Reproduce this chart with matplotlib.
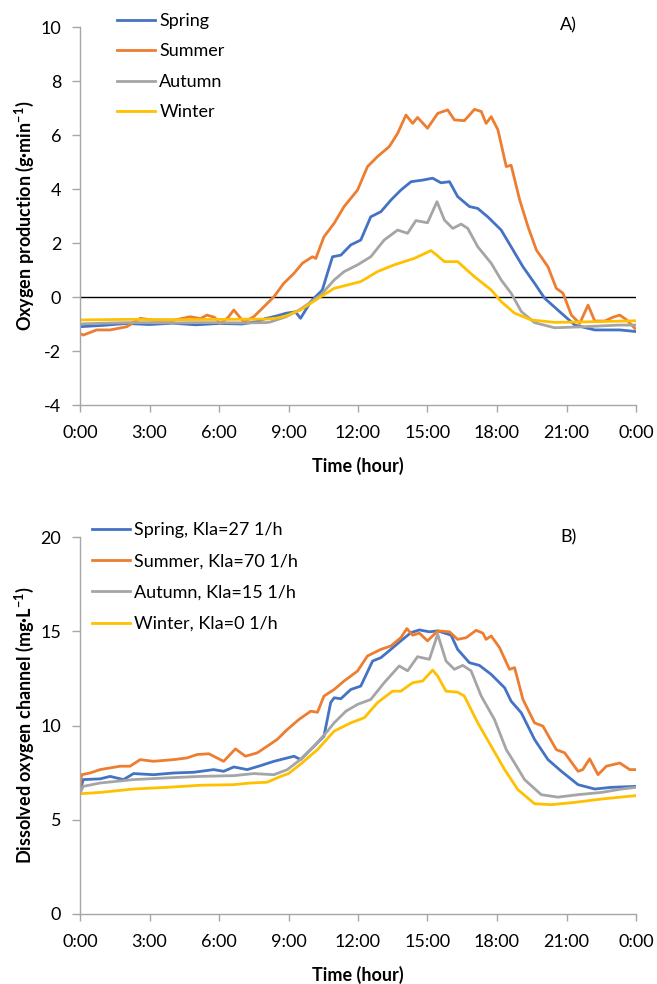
import matplotlib
matplotlib.use("Agg")
import matplotlib.pyplot as plt

plt.rcParams['font.family'] = ['Lato', 'DejaVu Sans']
plt.rcParams['mathtext.default'] = 'regular'
plt.rcParams['axes.unicode_minus'] = False

# ---------------- Panel A: oxygen production (g/min) ----------------
spring_a_t = [0, 1, 2, 3, 4, 5, 6, 7, 7.7, 8.0, 8.5, 8.9, 9.3, 9.52, 9.96, 10.46, 10.68, 10.9, 11.26, 11.69,
              12.12, 12.55, 12.99, 13.42, 13.85, 14.29, 14.79, 15.22, 15.58, 15.95, 16.3, 16.81, 17.17, 17.6,
              18.18, 18.61, 19.12, 19.62, 20.06, 20.78, 21.36, 22.22, 23.3, 24]
spring_a_v = [-1.1, -1.05, -0.98, -1.02, -0.97, -1.03, -0.98, -1.0, -0.9, -0.8, -0.7, -0.6, -0.55, -0.79, -0.17,
              0.26, 0.88, 1.49, 1.55, 1.93, 2.11, 2.97, 3.16, 3.59, 3.96, 4.27, 4.33, 4.40, 4.23, 4.27, 3.72,
              3.35, 3.28, 2.97, 2.48, 1.86, 1.12, 0.51, -0.05, -0.6, -1.04, -1.22, -1.22, -1.28]

summer_a_t = [0, 0.14, 0.72, 1.3, 2.02, 2.3, 2.6, 3.17, 4.04, 4.76, 5.2, 5.48, 5.8, 6.06, 6.4, 6.64, 7.07,
              7.5, 7.94, 8.37, 8.8, 9.24, 9.6, 10.03, 10.18, 10.53, 10.97, 11.40, 11.98, 12.41, 12.84, 13.35,
              13.71, 14.07, 14.36, 14.57, 15.0, 15.44, 15.87, 16.16, 16.59, 17.03, 17.32, 17.53, 17.75, 18.04,
              18.40, 18.61, 18.98, 19.34, 19.70, 20.2, 20.56, 20.85, 21.21, 21.57, 21.93, 22.22, 22.65, 23.0,
              23.3, 23.6, 23.95]
summer_a_v = [-1.35, -1.41, -1.22, -1.22, -1.1, -0.95, -0.79, -0.86, -0.86, -0.73, -0.80, -0.67, -0.75, -0.99,
              -0.75, -0.48, -0.93, -0.73, -0.36, 0.01, 0.51, 0.88, 1.25, 1.49, 1.43, 2.23, 2.73, 3.35, 3.96,
              4.83, 5.2, 5.57, 6.06, 6.74, 6.43, 6.65, 6.25, 6.80, 6.93, 6.56, 6.53, 6.95, 6.87, 6.43, 6.68,
              6.19, 4.83, 4.88, 3.59, 2.6, 1.74, 1.12, 0.32, 0.14, -0.67, -0.98, -0.3, -0.89, -0.89, -0.75,
              -0.67, -0.85, -1.16]

autumn_a_t = [0, 1, 2, 3, 4, 5, 6, 7, 8, 8.2, 8.9, 9.52, 10.39, 10.97, 11.4, 11.98, 12.55, 13.13, 13.71,
              14.14, 14.5, 15.0, 15.41, 15.73, 16.09, 16.45, 16.74, 17.17, 17.75, 18.18, 18.61, 19.05, 19.62,
              20.49, 21.8, 23.25, 24]
autumn_a_v = [-1.0, -0.97, -0.95, -0.95, -0.96, -0.95, -0.95, -0.96, -0.95, -0.93, -0.73, -0.45, 0.07, 0.63,
              0.94, 1.19, 1.49, 2.11, 2.48, 2.36, 2.83, 2.75, 3.53, 2.85, 2.54, 2.70, 2.54, 1.86, 1.25, 0.63,
              0.14, -0.54, -0.95, -1.14, -1.1, -1.04, -1.04]

winter_a_t = [0, 2, 4, 6, 8, 8.5, 8.9, 9.52, 10.39, 10.97, 12.12, 12.84, 13.56, 14.43, 15.15, 15.4, 15.73,
              16.3, 17.03, 17.75, 18.18, 18.76, 19.48, 20.49, 22.5, 24]
winter_a_v = [-0.85, -0.83, -0.84, -0.83, -0.82, -0.78, -0.7, -0.48, 0.01, 0.32, 0.57, 0.94, 1.19, 1.43,
              1.72, 1.55, 1.31, 1.31, 0.75, 0.26, -0.17, -0.6, -0.85, -0.94, -0.91, -0.88]

# ---------------- Panel B: dissolved oxygen (mg/L) ----------------
spring_b_t = [0, 0.14, 0.87, 1.3, 1.88, 2.31, 3.17, 4.04, 4.91, 5.77, 6.2, 6.64, 7.22, 7.79, 8.37, 8.95, 9.24,
              9.52, 10.1, 10.53, 10.82, 10.97, 11.26, 11.69, 12.12, 12.63, 12.99, 13.42, 13.85, 14.29, 14.65,
              15.08, 15.44, 16.02, 16.3, 16.81, 17.24, 17.75, 18.33, 18.61, 19.05, 19.62, 20.2, 20.78, 21.5,
              22.22, 22.94, 24]
spring_b_v = [6.5, 7.13, 7.17, 7.3, 7.13, 7.45, 7.39, 7.48, 7.52, 7.66, 7.57, 7.8, 7.66, 7.87, 8.1, 8.28, 8.37,
              8.19, 8.9, 9.43, 11.21, 11.47, 11.42, 11.91, 12.09, 13.42, 13.6, 14.04, 14.49, 14.93, 15.07,
              14.97, 15.02, 14.79, 14.04, 13.33, 13.19, 12.71, 12.0, 11.29, 10.67, 9.26, 8.19, 7.57, 6.86,
              6.63, 6.72, 6.77]

summer_b_t = [0, 0.07, 0.43, 0.87, 1.3, 1.73, 2.16, 2.6, 3.17, 4.04, 4.62, 5.05, 5.56, 6.2, 6.71, 7.14, 7.65,
              8.08, 8.51, 8.95, 9.45, 9.96, 10.25, 10.53, 10.97, 11.4, 11.98, 12.41, 12.99, 13.42, 13.85,
              14.11, 14.36, 14.65, 15.0, 15.44, 15.95, 16.3, 16.67, 17.1, 17.39, 17.53, 17.75, 18.11, 18.54,
              18.76, 19.12, 19.62, 19.98, 20.56, 20.92, 21.5, 21.7, 22.0, 22.36, 22.72, 23.3, 23.73, 24]
summer_b_v = [6.77, 7.39, 7.48, 7.66, 7.75, 7.84, 7.84, 8.19, 8.1, 8.19, 8.28, 8.46, 8.5, 8.1, 8.76, 8.37,
              8.55, 8.9, 9.26, 9.79, 10.32, 10.76, 10.7, 11.56, 11.91, 12.36, 12.89, 13.69, 14.04, 14.22,
              14.66, 15.14, 14.79, 14.9, 14.49, 15.02, 14.97, 14.57, 14.66, 15.05, 14.9, 14.57, 14.75, 14.13,
              12.98, 13.07, 11.38, 10.14, 9.97, 8.72, 8.55, 7.57, 7.66, 8.23, 7.39, 7.84, 8.01, 7.66, 7.66]

autumn_b_t = [0, 0.14, 0.87, 2.31, 3.75, 5.2, 6.64, 7.5, 8.37, 8.95, 9.52, 10.1, 10.68, 10.97, 11.48, 11.98,
              12.55, 13.13, 13.78, 14.14, 14.57, 15.08, 15.44, 15.8, 16.16, 16.52, 16.88, 17.32, 17.89, 18.4,
              18.76, 19.19, 19.91, 20.63, 21.5, 22.51, 23.38, 24]
autumn_b_v = [6.4, 6.77, 6.95, 7.13, 7.22, 7.3, 7.34, 7.45, 7.39, 7.66, 8.2, 8.9, 9.7, 10.14, 10.76, 11.12,
              11.38, 12.27, 13.16, 12.9, 13.65, 13.51, 14.84, 13.42, 12.98, 13.19, 12.9, 11.56, 10.32, 8.72,
              8.01, 7.13, 6.33, 6.2, 6.33, 6.45, 6.63, 6.72]

winter_b_t = [0, 0.87, 2.31, 3.75, 5.2, 6.64, 7.36, 8.08, 8.66, 9.0, 9.52, 10.25, 10.97, 11.69, 12.27, 12.84,
              13.49, 13.85, 14.36, 14.79, 15.22, 15.44, 15.8, 16.3, 16.59, 17.17, 17.75, 18.33, 18.9, 19.62,
              20.34, 21.36, 22.51, 24]
winter_b_v = [6.38, 6.45, 6.63, 6.72, 6.83, 6.86, 6.95, 6.99, 7.3, 7.45, 7.95, 8.72, 9.7, 10.14, 10.41, 11.21,
              11.82, 11.82, 12.27, 12.36, 12.94, 12.62, 11.82, 11.77, 11.56, 10.14, 8.9, 7.66, 6.6, 5.85,
              5.8, 5.92, 6.1, 6.28]

labels_a = ['Spring', 'Summer', 'Autumn', 'Winter']
labels_b = ['Spring, Kla=27 1/h', 'Summer, Kla=70 1/h', 'Autumn, Kla=15 1/h', 'Winter, Kla=0 1/h']
colors = ['#4472C4', '#ED7D31', '#A5A5A5', '#FFC000']
xticks = [0, 3, 6, 9, 12, 15, 18, 21, 24]
xticklabels = ['0:00', '3:00', '6:00', '9:00', '12:00', '15:00', '18:00', '21:00', '0:00']

W, H = 657, 984
fig = plt.figure(figsize=(W / 100, H / 100), dpi=100)

def fx(px):
    return px / W

def fy(py):
    return 1 - py / H

axA = fig.add_axes([fx(80), fy(405), fx(636) - fx(80), fy(27) - fy(405)])
axB = fig.add_axes([fx(80), fy(914), fx(636) - fx(80), fy(537) - fy(914)])

series_a = [(spring_a_t, spring_a_v), (summer_a_t, summer_a_v), (autumn_a_t, autumn_a_v), (winter_a_t, winter_a_v)]
series_b = [(spring_b_t, spring_b_v), (summer_b_t, summer_b_v), (autumn_b_t, autumn_b_v), (winter_b_t, winter_b_v)]

axis_grey = '#A6A6A6'
fs = 13

for ax in (axA, axB):
    for s in ('top', 'right'):
        ax.spines[s].set_visible(False)
    for s in ('left', 'bottom'):
        ax.spines[s].set_color(axis_grey)
        ax.spines[s].set_linewidth(1.0)
    ax.tick_params(axis='x', colors=axis_grey, labelcolor='#000000', labelsize=fs,
                   direction='out', length=5, width=1.0, pad=9.5)
    ax.tick_params(axis='y', colors=axis_grey, labelcolor='#000000', labelsize=fs,
                   direction='out', length=6, width=1.0, pad=7.5)
    ax.set_xlim(0, 24)
    ax.set_xticks(xticks)
    ax.set_xticklabels(xticklabels)
    ax.set_xlabel('Time (hour)', fontsize=fs, fontweight='bold', labelpad=11.5)

for (t, v), c, lab in zip(series_a, colors, labels_a):
    axA.plot(t, v, color=c, lw=2.0, label=lab, solid_joinstyle='round')
for (t, v), c, lab in zip(series_b, colors, labels_b):
    axB.plot(t, v, color=c, lw=2.0, label=lab, solid_joinstyle='round')

axA.axhline(0, color='black', lw=1.0, zorder=0.5)
axA.set_ylim(-4, 10)
axA.set_yticks([-4, -2, 0, 2, 4, 6, 8, 10])
axA.set_ylabel('Oxygen production (g·min$^{-1}$)', fontsize=fs, fontweight='bold', labelpad=3)

axB.set_ylim(0, 20)
axB.set_yticks([0, 5, 10, 15, 20])
axB.set_ylabel('Dissolved oxygen channel (mg·L$^{-1}$)', fontsize=fs, fontweight='bold', labelpad=3)

legA = axA.legend(loc='upper left', bbox_to_anchor=(fx(117), fy(13)), bbox_transform=fig.transFigure,
                  frameon=False, fontsize=fs, handlelength=2.1, handletextpad=0.25, labelspacing=0.8,
                  borderpad=0, borderaxespad=0)
legB = axB.legend(loc='upper left', bbox_to_anchor=(fx(92), fy(522)), bbox_transform=fig.transFigure,
                  frameon=False, fontsize=fs, handlelength=2.1, handletextpad=0.25, labelspacing=0.85,
                  borderpad=0, borderaxespad=0)

fig.text(fx(568), fy(25), 'A)', fontsize=fs, ha='center', va='center')
fig.text(fx(568), fy(537), 'B)', fontsize=fs, ha='center', va='center')

fig.savefig('out.png', dpi=100)
